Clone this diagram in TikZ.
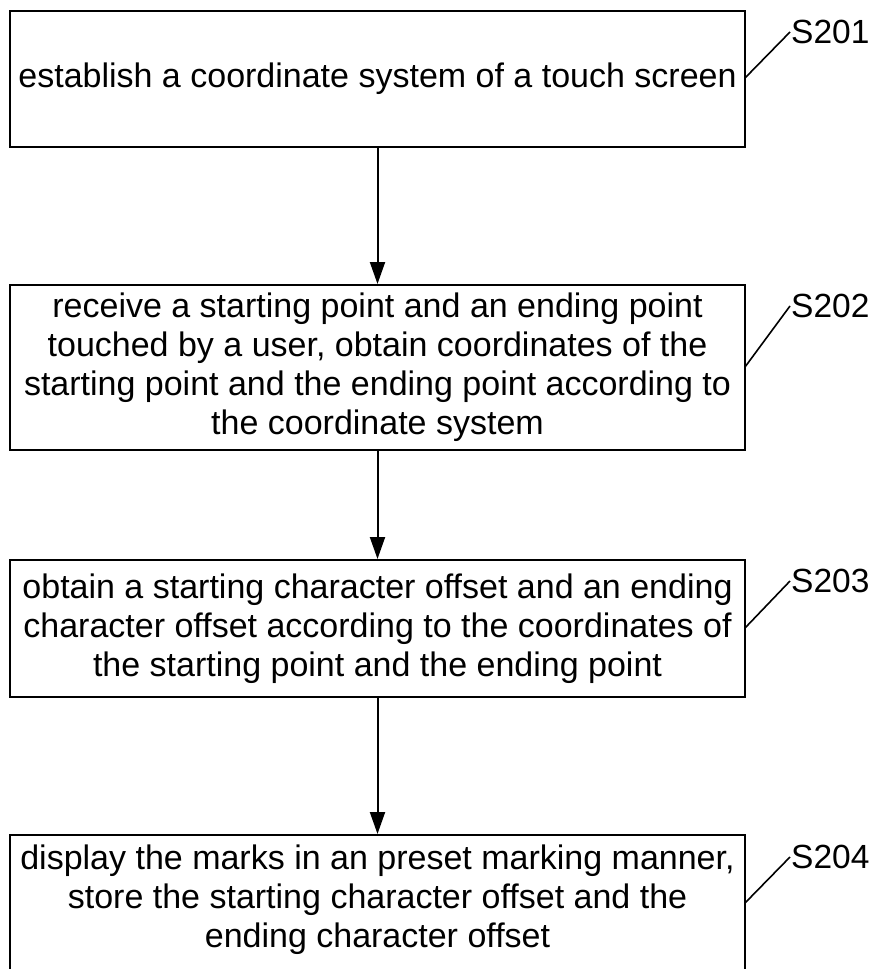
\documentclass[tikz,border=0pt]{standalone}
\usepackage{fontspec}
\setmainfont{Liberation Sans}
\usetikzlibrary{arrows.meta}
\begin{document}
\begin{tikzpicture}[x=1pt,y=-1pt,
  stepbox/.style={draw,line width=2pt,minimum width=735pt,inner sep=0pt,align=center,
    font=\fontsize{34}{39}\selectfont},
  boxtext/.style={inner sep=0pt,align=center,font=\fontsize{34}{39}\selectfont},
  flow/.style={line width=2pt,-{Triangle[length=22pt,width=15pt]}},
  lbl/.style={inner sep=1pt,anchor=west,font=\fontsize{33.5}{39}\selectfont},
  lblline/.style={line width=1.6pt}]
\useasboundingbox (0,0) rectangle (873,969);
\node[stepbox,minimum height=136pt] (b1) at (377.5,79) {establish a coordinate system of a touch screen};
\node[stepbox,minimum height=165pt] (b2) at (377.5,367.5) {receive a starting point and an ending point\\touched by a user, obtain coordinates of the\\starting point and the ending point according to\\the coordinate system};
\node[stepbox,minimum height=137pt] (b3) at (377.5,628.5) {obtain a starting character offset and an ending\\character offset according to the coordinates of\\the starting point and the ending point};
\node[draw,line width=2pt,minimum width=735pt,minimum height=150pt,inner sep=0pt] (b4) at (377.5,910) {};
\node[boxtext] (t4) at (377.5,900) {display the marks in an preset marking manner,\\store the starting character offset and the\\ending character offset};
\draw[flow] (b1.south) -- (b2.north);
\draw[flow] (b2.south) -- (b3.north);
\draw[flow] (b3.south) -- (b4.north);
\node[lbl] (s1) at (790,32) {S201};
\node[lbl] (s2) at (790,306) {S202};
\node[lbl] (s3) at (790,581) {S203};
\node[lbl] (s4) at (790,857) {S204};
\coordinate (c1) at (745,78);
\coordinate (c2) at (745,367);
\coordinate (c3) at (745,628);
\coordinate (c4) at (745,903);
\draw[lblline] (c1) -- (s1.west);
\draw[lblline] (c2) -- (s2.west);
\draw[lblline] (c3) -- (s3.west);
\draw[lblline] (c4) -- (s4.west);
\end{tikzpicture}
\end{document}
